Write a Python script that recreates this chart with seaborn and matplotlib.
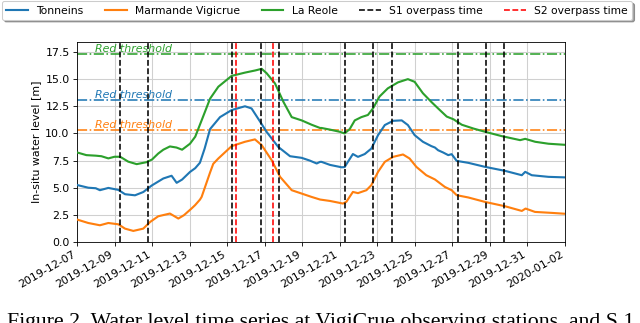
import numpy as np
import pandas as pd
import matplotlib
matplotlib.use("Agg")
import matplotlib.pyplot as plt
import matplotlib.dates as mdates
import seaborn as sns

# ---------------- data ----------------
start = "2019-12-07"

tonneins_days = [0.0, 0.6, 1.0, 1.22, 1.67, 2.2, 2.56, 3.09, 3.53, 3.98, 4.6, 5.04, 5.31, 5.6,
                 6.02, 6.3, 6.55, 6.8, 7.09, 7.62, 8.24, 8.95, 9.3, 9.75, 10.1, 10.72, 11.35,
                 11.97, 12.4, 12.77, 12.95, 13.03, 13.48, 14.1, 14.26, 14.44, 14.7, 14.97,
                 15.33, 15.68, 16.04, 16.4, 16.84, 17.3, 17.63, 17.99, 18.43, 18.88, 19.07,
                 19.24, 19.5, 19.78, 19.96, 20.23, 20.85, 21.74, 22.81, 23.7, 23.88, 24.23,
                 25.12, 26.0]
tonneins_level = [5.25, 5.0, 4.95, 4.77, 4.98, 4.8, 4.4, 4.3, 4.6, 5.2, 5.85, 6.1, 5.45, 5.75,
                  6.45, 6.8, 7.3, 8.6, 10.4, 11.5, 12.15, 12.5, 12.3, 11.1, 10.15, 8.76, 7.9,
                  7.75, 7.5, 7.23, 7.38, 7.38, 7.1, 6.88, 6.9, 7.4, 8.1, 7.84,
                  8.1, 8.6, 9.84, 10.77, 11.16, 11.2, 10.77, 9.84, 9.23, 8.83, 8.7,
                  8.45, 8.25, 8.0, 8.09, 7.47, 7.29, 6.92, 6.55, 6.15, 6.46, 6.15,
                  6.0, 5.95]

marmande_days = [0.0, 0.6, 1.22, 1.67, 2.2, 2.56, 3.0, 3.53, 3.9, 4.33, 4.95, 5.4, 5.7, 6.1,
                 6.29, 6.55, 6.64, 7.09, 7.26, 7.53, 8.24, 8.95, 9.48, 9.84, 10.37, 10.82,
                 11.44, 11.97, 12.5, 12.95, 13.48, 14.17, 14.35, 14.7, 14.97, 15.42, 15.68,
                 16.04, 16.4, 16.84, 17.37, 17.72, 18.08, 18.61, 19.07, 19.6, 19.96, 20.23,
                 20.85, 21.74, 22.81, 23.7, 23.9, 24.4, 25.3, 26.0]
marmande_level = [2.07, 1.75, 1.54, 1.75, 1.63, 1.23, 1.02, 1.23, 1.85, 2.37, 2.62, 2.16, 2.47, 3.08,
                  3.39, 3.9, 4.15, 6.4, 7.2, 7.69, 8.83, 9.23, 9.45, 8.92, 7.54, 6.0,
                  4.77, 4.46, 4.15, 3.91, 3.78, 3.54, 3.7, 4.61, 4.5, 4.77, 5.23,
                  6.46, 7.38, 7.84, 8.06, 7.69, 6.92, 6.15, 5.76, 5.07, 4.77, 4.31,
                  4.1, 3.69, 3.29, 2.86, 3.08, 2.77, 2.68, 2.6]

lareole_days = [0.0, 0.5, 1.0, 1.3, 1.67, 2.0, 2.3, 2.73, 3.18, 3.7, 4.0, 4.33, 4.6, 4.95, 5.3,
                5.6, 6.02, 6.3, 6.64, 7.09, 7.53, 8.24, 8.95, 9.5, 9.84, 10.1, 10.55, 11.0,
                11.44, 11.97, 12.5, 12.95, 13.03, 13.48, 14.0, 14.26, 14.53, 14.8, 15.15, 15.5,
                15.77, 16.12, 16.56, 17.1, 17.63, 17.99, 18.43, 18.88, 19.24, 19.7, 20.06,
                20.5, 21.12, 21.74, 22.63, 23.61, 23.88, 24.41, 25.12, 26.0]
lareole_level = [8.25, 8.0, 7.95, 7.9, 7.7, 7.85, 7.85, 7.4, 7.17, 7.35, 7.6, 8.15, 8.5, 8.8, 8.7,
                 8.5, 9.05, 9.7, 11.2, 13.2, 14.3, 15.3, 15.6, 15.8, 15.95, 15.55, 14.6, 12.9,
                 11.5, 11.2, 10.8, 10.5, 10.5, 10.35, 10.15, 10.0, 10.4, 11.2, 11.5, 11.7,
                 12.3, 13.4, 14.15, 14.7, 15.0, 14.75, 13.7, 12.9, 12.3, 11.55, 11.3,
                 10.8, 10.45, 10.15, 9.75, 9.38, 9.5, 9.23, 9.05, 8.95]

stations = ["Tonneins", "Marmande Vigicrue", "La Reole"]
colors = ["#1f77b4", "#ff7f0e", "#2ca02c"]
red_thresholds = [13.07, 10.28, 17.3]

s1_times = ["2019-12-09 06:45", "2019-12-10 18:30", "2019-12-15 06:30", "2019-12-16 18:45",
            "2019-12-17 18:35", "2019-12-21 06:45", "2019-12-22 18:45", "2019-12-23 18:30",
            "2019-12-27 06:45", "2019-12-28 18:30", "2019-12-29 18:30"]
s2_times = ["2019-12-15 10:50", "2019-12-17 10:50"]

x_ticks = pd.date_range("2019-12-07", "2020-01-02", freq="2D")
y_ticks = [0.0, 2.5, 5.0, 7.5, 10.0, 12.5, 15.0, 17.5]

caption = "Figure 2. Water level time series at VigiCrue observing stations, and S 1"

# ---------------- build long table ----------------
t0 = pd.Timestamp(start)
frames = []
for name, d, v in [("Tonneins", tonneins_days, tonneins_level),
                   ("Marmande Vigicrue", marmande_days, marmande_level),
                   ("La Reole", lareole_days, lareole_level)]:
    frames.append(pd.DataFrame({
        "time": t0 + pd.to_timedelta(np.array(d), unit="D"),
        "level": v,
        "station": name,
    }))
df = pd.concat(frames, ignore_index=True)

# ---------------- figure ----------------
DPI = 76
FS = 10.4
fig = plt.figure(figsize=(640 / DPI, 323 / DPI), dpi=DPI)
ax = fig.add_axes([0.1203, 0.2508, 0.7625, 0.6202])

palette = dict(zip(stations, colors))
sns.lineplot(data=df, x="time", y="level", hue="station", hue_order=stations,
             palette=palette, linewidth=2.0, ax=ax, legend=True, zorder=3)

for th, c in zip(red_thresholds, colors):
    ax.axhline(th, color=c, linestyle="-.", linewidth=1.5, zorder=2)
    ax.text(t0 + pd.Timedelta(days=0.97), th + 0.05, "Red threshold", color=c,
            fontstyle="italic", fontsize=FS, va="bottom", ha="left", zorder=4)

for i, t in enumerate(s1_times):
    ax.axvline(pd.Timestamp(t), color="black", linestyle="--", linewidth=1.5,
               zorder=4, label="S1 overpass time" if i == 0 else None)
for i, t in enumerate(s2_times):
    ax.axvline(pd.Timestamp(t), color="red", linestyle="--", linewidth=1.5,
               zorder=4, label="S2 overpass time" if i == 0 else None)

ax.set_xlim(pd.Timestamp("2019-12-07"), pd.Timestamp("2020-01-02"))
ax.set_ylim(0, 18.45)
ax.set_xticks(x_ticks)
ax.xaxis.set_major_formatter(mdates.DateFormatter("%Y-%m-%d"))
ax.set_yticks(y_ticks)
ax.grid(True, color="#d0d0d0", linewidth=1.0)
ax.set_axisbelow(True)
ax.set_xlabel("")
ax.set_ylabel("In-situ water level [m]", fontsize=FS)
ax.tick_params(labelsize=FS)
for lab in ax.get_xticklabels():
    lab.set_rotation(30)
    lab.set_ha("right")

handles, labels = ax.get_legend_handles_labels()
ax.get_legend().remove()
order = ["Tonneins", "Marmande Vigicrue", "La Reole", "S1 overpass time", "S2 overpass time"]
hmap = dict(zip(labels, handles))
fig.legend([hmap[k] for k in order], order, ncol=5, loc="center left",
           bbox_to_anchor=(0.0, 1 - 10.5 / 323), fontsize=10.15, shadow=True,
           frameon=True, borderaxespad=0.2)

fig.text(0.011, 1 - 313.0 / 323, caption, family="Liberation Serif", fontsize=20.6,
         va="top", ha="left")

fig.savefig("out.png", dpi=DPI)
